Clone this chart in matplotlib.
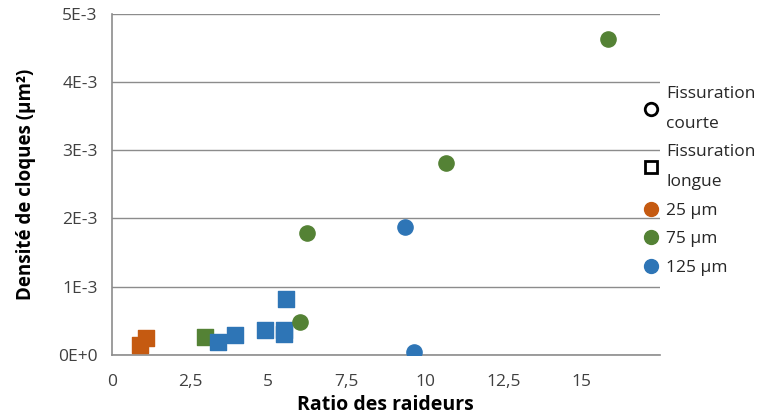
import matplotlib.pyplot as plt
from matplotlib.lines import Line2D

plt.rcParams['font.family'] = ['Open Sans', 'DejaVu Sans']

orange = '#C55A11'
green = '#548235'
blue = '#2E75B6'

# fissuration longue (squares)
sq_25_x = [0.89, 1.1]
sq_25_y = [0.15e-3, 0.25e-3]
sq_75_x = [2.97]
sq_75_y = [0.26e-3]
sq_125_x = [3.38, 3.95, 4.91, 5.5, 5.5, 5.58]
sq_125_y = [0.19e-3, 0.29e-3, 0.37e-3, 0.36e-3, 0.30e-3, 0.82e-3]

# fissuration courte (circles)
ci_75_x = [6.02, 6.25, 10.68, 15.85]
ci_75_y = [0.48e-3, 1.79e-3, 2.82e-3, 4.63e-3]
ci_125_x = [9.37, 9.66]
ci_125_y = [1.88e-3, 0.04e-3]

xticks = [0, 2.5, 5, 7.5, 10, 12.5, 15]
xlabels = ['0', '2,5', '5', '7,5', '10', '12,5', '15']
yticks = [0, 1e-3, 2e-3, 3e-3, 4e-3, 5e-3]
ylabels = ['0E+0', '1E-3', '2E-3', '3E-3', '4E-3', '5E-3']

fig = plt.figure(figsize=(7.7, 4.19), dpi=100)
ax = fig.add_axes([0.145, 0.153, 0.712, 0.814])

ax.scatter(sq_25_x, sq_25_y, marker='s', s=140, color=orange, zorder=3)
ax.scatter(sq_75_x, sq_75_y, marker='s', s=140, color=green, zorder=3)
ax.scatter(sq_125_x, sq_125_y, marker='s', s=140, color=blue, zorder=3)
ax.scatter(ci_75_x, ci_75_y, marker='o', s=120, color=green, zorder=3)
ax.scatter(ci_125_x, ci_125_y, marker='o', s=120, color=blue, zorder=3)

ax.set_xlim(0, 17.5)
ax.set_ylim(0, 5e-3)
ax.set_xticks(xticks)
ax.set_xticklabels(xlabels)
ax.set_yticks(yticks)
ax.set_yticklabels(ylabels)
ax.tick_params(labelsize=12.5, colors='#404040', length=0)
ax.tick_params(axis='x', pad=14)
ax.tick_params(axis='y', pad=10)
ax.grid(axis='y', color='#8c8c8c', linewidth=1)
ax.set_axisbelow(True)
for s in ['top', 'right']:
    ax.spines[s].set_visible(False)
for s in ['left', 'bottom']:
    ax.spines[s].set_color('#8c8c8c')
    ax.spines[s].set_linewidth(1.2)

ax.set_xlabel('Ratio des raideurs', fontsize=14, fontweight='bold', labelpad=3)
ax.set_ylabel('Densité de cloques (µm²)', fontsize=13.5, fontweight='bold', labelpad=16)

handles = [
    Line2D([], [], marker='o', ls='', markerfacecolor='white', markeredgecolor='black', markeredgewidth=2, markersize=9),
    Line2D([], [], marker='s', ls='', markerfacecolor='white', markeredgecolor='black', markeredgewidth=2, markersize=9),
    Line2D([], [], marker='o', ls='', color=orange, markersize=10),
    Line2D([], [], marker='o', ls='', color=green, markersize=10),
    Line2D([], [], marker='o', ls='', color=blue, markersize=10),
]
labels = ['Fissuration\ncourte', 'Fissuration\nlongue', '25 µm', '75 µm', '125 µm']
leg = fig.legend(handles, labels, loc='upper left', bbox_to_anchor=(0.834, 0.795), frameon=False,
                 fontsize=12.5, handletextpad=0.4, labelspacing=0.72, handlelength=1.0,
                 borderpad=0, borderaxespad=0, labelcolor='#262626')
for t in leg.get_texts():
    t.set_linespacing(2.15)

fig.savefig('out.png', dpi=100)
